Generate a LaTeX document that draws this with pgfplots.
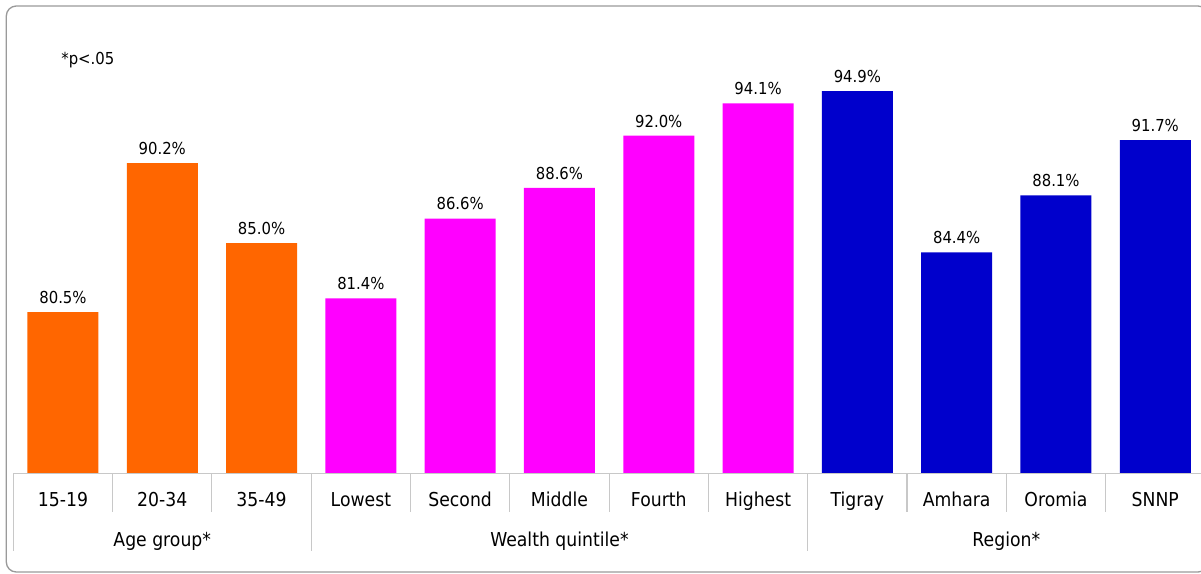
\documentclass[border=0pt]{standalone}
\usepackage{pgfplots}
\pgfplotsset{compat=1.18}
\usepackage{fontspec}
\setmainfont{DejaVu Sans}[FakeStretch=0.9]
\definecolor{cOr}{HTML}{FF6600}
\definecolor{cMa}{HTML}{FF00FF}
\definecolor{cBl}{HTML}{0000CC}
\definecolor{sep}{HTML}{C8C8C8}
\definecolor{frm}{HTML}{9A9A9A}
\newcommand{\lab}{\fontsize{11.5}{13}\selectfont}
\newcommand{\val}{\fontsize{9.9}{12}\selectfont}
\begin{document}
\begin{tikzpicture}
\begin{scope}[x=0.6pt,y=-0.6pt]
\draw[frm, line width=0.8pt, rounded corners=6pt] (6.3,6) rectangle (1208,572);
\node[anchor=west, font=\val, inner sep=0pt] at (61,60) {*p<.05};
\end{scope}
\begin{axis}[at={(7.98pt,-283.98pt)}, anchor=south west, scale only axis,
  width=714.96pt, height=276.3pt, xmin=-0.5, xmax=11.5, ymin=70, ymax=100,
  hide axis, clip=false, ybar, bar width=42.6pt, bar shift=0pt,
  point meta=explicit symbolic,
  nodes near coords={\pgfplotspointmeta\%},
  every node near coord/.style={anchor=south, inner sep=0pt, yshift=4.8pt, font=\val, text=black}]
\addplot[fill=cOr, draw=none] coordinates {(0,80.5)[80.5] (1,90.2)[90.2] (2,85.0)[85.0]};
\addplot[fill=cMa, draw=none] coordinates {(3,81.4)[81.4] (4,86.6)[86.6] (5,88.6)[88.6] (6,92.0)[92.0] (7,94.1)[94.1]};
\addplot[fill=cBl, draw=none] coordinates {(8,94.9)[94.9] (9,84.4)[84.4] (10,88.1)[88.1] (11,91.7)[91.7]};
% axis line and separators
\draw[sep, line width=0.8pt] (axis cs:-0.5,70) -- (axis cs:11.5,70);
\draw[sep, line width=0.7pt] (axis cs:0.5,70) -- (axis cs:0.5,67.48);
\draw[sep, line width=0.7pt] (axis cs:1.5,70) -- (axis cs:1.5,67.48);
\draw[sep, line width=0.7pt] (axis cs:3.5,70) -- (axis cs:3.5,67.48);
\draw[sep, line width=0.7pt] (axis cs:4.5,70) -- (axis cs:4.5,67.48);
\draw[sep, line width=0.7pt] (axis cs:5.5,70) -- (axis cs:5.5,67.48);
\draw[sep, line width=0.7pt] (axis cs:6.5,70) -- (axis cs:6.5,67.48);
\draw[sep, line width=0.7pt] (axis cs:8.5,70) -- (axis cs:8.5,67.48);
\draw[sep, line width=0.7pt] (axis cs:9.5,70) -- (axis cs:9.5,67.48);
\draw[sep, line width=0.7pt] (axis cs:10.5,70) -- (axis cs:10.5,67.48);
\draw[sep, line width=0.7pt] (axis cs:-0.5,70) -- (axis cs:-0.5,64.94);
\draw[sep, line width=0.7pt] (axis cs:2.5,70) -- (axis cs:2.5,64.94);
\draw[sep, line width=0.7pt] (axis cs:7.5,70) -- (axis cs:7.5,64.94);
\draw[sep, line width=0.7pt] (axis cs:11.5,70) -- (axis cs:11.5,64.94);
% category labels
\node[anchor=base, font=\lab, inner sep=0pt] at (axis cs:0,67.87) {15-19};
\node[anchor=base, font=\lab, inner sep=0pt] at (axis cs:1,67.87) {20-34};
\node[anchor=base, font=\lab, inner sep=0pt] at (axis cs:2,67.87) {35-49};
\node[anchor=base, font=\lab, inner sep=0pt] at (axis cs:3,67.87) {Lowest};
\node[anchor=base, font=\lab, inner sep=0pt] at (axis cs:4,67.87) {Second};
\node[anchor=base, font=\lab, inner sep=0pt] at (axis cs:5,67.87) {Middle};
\node[anchor=base, font=\lab, inner sep=0pt] at (axis cs:6,67.87) {Fourth};
\node[anchor=base, font=\lab, inner sep=0pt] at (axis cs:7,67.87) {Highest};
\node[anchor=base, font=\lab, inner sep=0pt] at (axis cs:8,67.87) {Tigray};
\node[anchor=base, font=\lab, inner sep=0pt] at (axis cs:9,67.87) {Amhara};
\node[anchor=base, font=\lab, inner sep=0pt] at (axis cs:10,67.87) {Oromia};
\node[anchor=base, font=\lab, inner sep=0pt] at (axis cs:11,67.87) {SNNP};
% group labels
\node[anchor=base, font=\lab, inner sep=0pt] at (axis cs:1,65.20) {Age group*};
\node[anchor=base, font=\lab, inner sep=0pt] at (axis cs:5,65.20) {Wealth quintile*};
\node[anchor=base, font=\lab, inner sep=0pt] at (axis cs:9.5,65.20) {Region*};
\end{axis}
\pgfresetboundingbox
\useasboundingbox (0,0) rectangle (720.6pt,-343.8pt);
\end{tikzpicture}
\end{document}
